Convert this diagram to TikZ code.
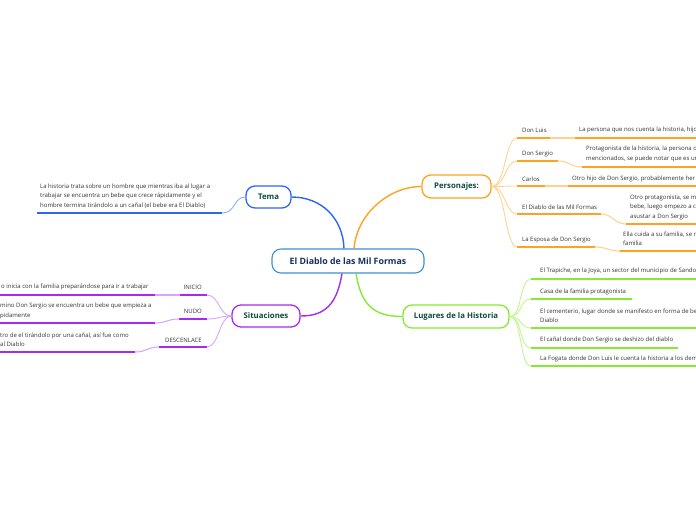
\documentclass[tikz,border=0pt]{standalone}
\usepackage{fontspec}
\setmainfont{Open Sans}
\definecolor{cblue}{HTML}{2E66F2}
\definecolor{blight}{HTML}{8FB0F8}
\definecolor{rootblue}{HTML}{3D8FD6}
\definecolor{navy}{HTML}{16305E}
\definecolor{corange}{HTML}{FFA31F}
\definecolor{olight}{HTML}{FFD38F}
\definecolor{cgreen}{HTML}{86EA33}
\definecolor{glight}{HTML}{C2F590}
\definecolor{cpurple}{HTML}{A62BEE}
\definecolor{plight}{HTML}{D8A6F8}
\definecolor{topictext}{HTML}{0D4B3D}
\definecolor{txtgray}{HTML}{333333}
\tikzset{
  topic/.style={draw, fill=white, rounded corners=9pt, line width=1.3pt, inner sep=0pt,
    font=\fontsize{7.8}{9}\selectfont\bfseries, text=topictext},
  txt/.style={inner sep=0pt, anchor=west, align=left, font=\fontsize{6.0}{9.4}\selectfont, text=txtgray},
  txtr/.style={txt, anchor=east, align=right},
  ul/.style={line width=2.2pt},
  mainline/.style={line width=1.4pt},
  subline/.style={line width=0.9pt},
}
\begin{document}
\begin{tikzpicture}[x=1pt,y=-1pt]
\useasboundingbox (0,0) rectangle (696,520);
\clip (0,0) rectangle (696,520);

% ---------- topics ----------
\node[topic, draw=rootblue, line width=1.1pt, minimum width=152pt, minimum height=24pt,
  font=\fontsize{8.8}{10}\selectfont\bfseries, text=navy] (root) at (348,261) {El Diablo de las Mil Formas};
\node[topic, draw=cblue, minimum width=45pt, minimum height=22pt] (tema) at (268.5,197) {Tema};
\node[topic, draw=corange, minimum width=69pt, minimum height=23pt] (pers) at (456.5,186.5) {Personajes:};
\node[topic, draw=cgreen, minimum width=106pt, minimum height=23pt] (lug) at (456,316.5) {Lugares de la Historia};
\node[topic, draw=cpurple, minimum width=68pt, minimum height=22pt] (sit) at (266,316) {Situaciones};

% ---------- main connectors ----------
\draw[mainline, cblue] ([xshift=-4pt]root.north) .. controls +(-1,-30) and +(30,0) .. (tema.east);
\draw[mainline, corange] ([xshift=6pt]root.north) .. controls +(3,-35) and +(-32,0) .. (pers.west);
\draw[mainline, cgreen] ([xshift=8pt]root.south) .. controls +(5,30) and +(-30,0) .. (lug.west);
\draw[mainline, cpurple] ([xshift=-6pt]root.south) .. controls +(-5,30) and +(25,0) .. (sit.east);

% ---------- Tema ----------
\node[txt] (temad) at (40,196) {La historia trata sobre un hombre que mientras iba al lugar a\\trabajar se encuentra un bebe que crece rápidamente y el\\hombre termina tirándolo a un cañal (el bebe era El Diablo)};
\coordinate (tua) at (37,213); \coordinate (tub) at (222,213);
\draw[ul, cblue] (tua) -- (tub);
\draw[subline, blight] (tub) .. controls +(14,0) and +(-12,0) .. (tema.west);

% ---------- Personajes ----------
% 1 Don Luis
\node[txt] (p1) at (522,130) {Don Luis};
\coordinate (p1a) at (517,138); \coordinate (p1b) at (550,138);
\node[txt] (p1d) at (579,130) {La persona que nos cuenta la historia, hijo};
\coordinate (p1c) at (575,138); \coordinate (p1e) at (700,138);
% 2 Don Sergio
\node[txt] (p2) at (522,154) {Don Sergio};
\coordinate (p2a) at (517,161); \coordinate (p2b) at (558,161);
\node[txt] (p2d) at (586,154) {Protagonista de la historia, la persona q\\mencionados, se puede notar que es un};
\coordinate (p2c) at (582,167); \coordinate (p2e) at (700,167);
% 3 Carlos
\node[txt] (p3) at (522,179) {Carlos};
\coordinate (p3a) at (517,186); \coordinate (p3b) at (545,186);
\node[txt] (p3d) at (572,179) {Otro hijo de Don Sergio, probablemente her};
\coordinate (p3c) at (568,186); \coordinate (p3e) at (700,186);
% 4 El Diablo
\node[txt] (p4) at (522,207) {El Diablo de las Mil Formas};
\coordinate (p4a) at (517,214); \coordinate (p4b) at (601,214);
\node[txt] (p4d) at (630,207.5) {Otro protagonista, se m\\bebe, luego empezo a c\\asustar a Don Sergio};
\coordinate (p4c) at (626,224); \coordinate (p4e) at (700,224);
% 5 La Esposa
\node[txt] (p5) at (522,240) {La Esposa de Don Sergio};
\coordinate (p5a) at (517,247); \coordinate (p5b) at (595,247);
\node[txt] (p5d) at (623,239) {Ella cuida a su familia, se m\\familia};
\coordinate (p5c) at (620,251); \coordinate (p5e) at (700,251);

\foreach \i in {1,...,5}{
  \draw[subline, olight] (pers.east) .. controls +(14,0) and +(-12,0) .. (p\i a);
  \draw[ul, corange] (p\i a) -- (p\i b);
  \draw[line width=1.1pt, olight] (p\i b) .. controls +(12,0) and +(-12,0) .. (p\i c);
  \draw[ul, corange] (p\i c) -- (p\i e);
}

% ---------- Lugares ----------
\node[txt] (l1) at (540,271) {El Trapiche, en la Joya, un sector del municipio de Sando};
\coordinate (l1a) at (531,279); \coordinate (l1b) at (700,279);
\node[txt] (l2) at (540,292) {Casa de la familia protagonista};
\coordinate (l2a) at (531,299); \coordinate (l2b) at (632,299);
\node[txt] (l3) at (540,315.5) {El cementerio, lugar donde se manifesto en forma de be\\Diablo};
\coordinate (l3a) at (531,328); \coordinate (l3b) at (700,328);
\node[txt] (l4) at (540,340) {El cañal donde Don Sergio se deshizo del diablo};
\coordinate (l4a) at (531,348); \coordinate (l4b) at (678,348);
\node[txt] (l5) at (540,358.5) {La Fogata donde Don Luis le cuenta la historia a los dem};
\coordinate (l5a) at (531,366); \coordinate (l5b) at (700,366);
\foreach \i in {1,...,5}{
  \draw[subline, glight] (lug.east) .. controls +(13,0) and +(-12,0) .. (l\i a);
  \draw[ul, cgreen] (l\i a) -- (l\i b);
}

% ---------- Situaciones ----------
\node[txtr] (s1) at (202,287) {INICIO};
\coordinate (s1a) at (207,295); \coordinate (s1b) at (180,295);
\node[txt] (s1d) at (1,287) {o inicia con la familia preparándose para ir a trabajar};
\coordinate (s1c) at (155,295); \coordinate (s1e) at (-5,295);
\node[txtr] (s2) at (202,311) {NUDO};
\coordinate (s2a) at (207,319); \coordinate (s2b) at (179,319);
\node[txt] (s2d) at (0,311) {mino Don Sergio se encuentra un bebe que empieza a\\pidamente};
\coordinate (s2c) at (155,323); \coordinate (s2e) at (-5,323);
\node[txtr] (s3) at (202,340) {DESCENLACE};
\coordinate (s3a) at (207,347); \coordinate (s3b) at (159,347);
\node[txt] (s3d) at (0,340) {tro de el tirándolo por una cañal, así fue como\\al Diablo};
\coordinate (s3c) at (135,352); \coordinate (s3e) at (-5,352);
\foreach \i in {1,2,3}{
  \draw[subline, plight] (sit.west) .. controls +(-12,0) and +(12,0) .. (s\i a);
  \draw[ul, cpurple] (s\i a) -- (s\i b);
  \draw[line width=1.1pt, plight] (s\i b) .. controls +(-12,0) and +(12,0) .. (s\i c);
  \draw[ul, cpurple] (s\i c) -- (s\i e);
}
\end{tikzpicture}
\end{document}
